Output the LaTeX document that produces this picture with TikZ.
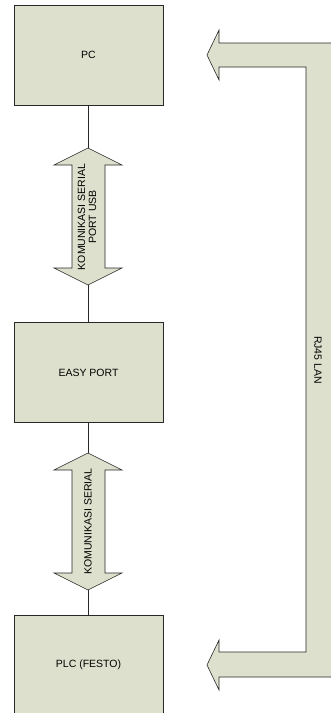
\documentclass[tikz,border=0pt]{standalone}
\usepackage{fontspec}
\setmainfont{Liberation Sans}
\usepackage{tikz}
\definecolor{isi}{RGB}{221,224,204}
\definecolor{garis}{RGB}{40,40,40}

\begin{document}
\begin{tikzpicture}[x=1pt,y=-1pt,join=miter,
        blok/.style={draw=garis,line width=.8pt,fill=isi,minimum width=149pt,minimum height=100pt,inner sep=0pt},
        panah/.style={draw=garis,line width=.6pt,fill=isi},
        teks/.style={font=\fontsize{10.5}{11}\selectfont,align=center,inner sep=0pt}] % Blok diagram komunikasi
        \useasboundingbox (0,0) rectangle (331,713);
        \node[blok,teks] (pc) at (88.5,55) {PC};
        \node[blok,teks] (easy) at (88.5,372.5) {EASY PORT};
        \node[blok,teks] (plc) at (88.5,665) {PLC (FESTO)};
        \draw[garis,line width=.7pt] (pc) -- (easy);
        \draw[garis,line width=.7pt] (easy) -- (plc);
        % panah USB
        \filldraw[panah](88,148)--(122,165)--(105,165)--(105,268)--(122,268)--(88,285)--(54,268)--(72,268)--(72,165)--(54,165)--cycle;
        % panah serial
        \filldraw[panah](88,453)--(122,470)--(105,470)--(105,573)--(122,573)--(88,590)--(54,573)--(72,573)--(72,470)--(54,470)--cycle;
        % panah LAN
        \filldraw[panah](207,55)--(219,30)--(219,43)--(334,43)--(334,677)--(219,677)--(219,690)--(207,665)--(219,640)--(219,652)--(306,652)--(306,67)--(219,67)--(219,80)--cycle;
        \node[teks,rotate=90] (usb) at (87,217) {KOMUNIKASI SERIAL\\PORT USB};
        \node[teks,rotate=90] (serial) at (88,521.5) {KOMUNIKASI SERIAL};
        \node[teks,rotate=-90] (lan) at (318,360) {RJ45 LAN};
\end{tikzpicture}
\end{document}
